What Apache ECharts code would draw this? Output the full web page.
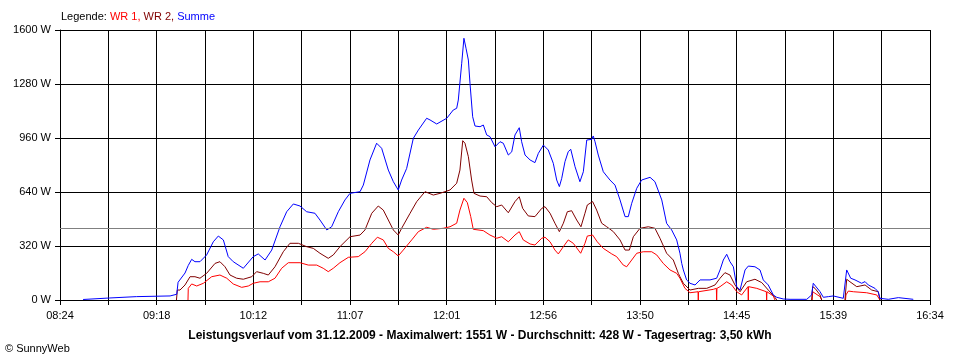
<!DOCTYPE html>
<html>
<head>
<meta charset="utf-8">
<script src="https://cdn.jsdelivr.net/npm/echarts@6/dist/echarts.min.js"></script>
<style>
html,body{margin:0;padding:0;background:#fff;}
#chart{width:960px;height:360px;}
</style>
</head>
<body>
<div id="chart"></div>
<script>
// ---- data ----
const seriesNames = ['WR 1', 'WR 2', 'Summe'];
const xTickLabels = ['08:24','09:18','10:12','11:07','12:01','12:56','13:50','14:45','15:39','16:34'];
const yTicks = [0, 320, 640, 960, 1280, 1600];
const avgW = 428;
const maxW = 1551;
const dateText = '31.12.2009';
const yieldText = '3,50 kWh';

const sumTimes = ['08:37','08:52','09:07','09:26','09:29:45','09:30:30','09:34:25','09:36:15','09:38:10','09:40',
'09:42:50','09:46:35','09:50:20','09:53:10','09:56','09:58:45','10:01:35','10:07:15','10:12:50','10:15:40',
'10:19:30','10:23:15','10:27:55','10:31:40','10:35:25','10:39:10','10:42:55','10:47:35','10:50:25','10:54:15',
'10:57','11:00:45','11:04:30','11:07:20','11:13','11:14:50','11:18:35','11:22:20','11:25:10','11:28:55',
'11:31:45','11:34:30','11:36:25','11:39:15','11:43','11:45:50','11:50:30','11:52:25','11:56:10','12:01:50',
'12:05:30','12:07:25','12:08:20','12:10:15','12:11:30','12:12:40','12:14','12:14:55','12:16:25','12:17:45',
'12:20:35','12:22:25','12:24:20','12:26:10','12:29','12:31:50','12:33:40','12:36:30','12:38:25','12:40:15',
'12:42:40','12:44','12:45:55','12:48:45','12:51:30','12:53:25','12:56:15','12:59','13:01:50','13:03:45',
'13:05:15','13:06:35','13:08:25','13:10:15','13:11:40','13:14:05','13:16:50','13:18:45','13:20:40','13:23:30',
'13:24:20','13:25:20','13:27:10','13:30','13:33:45','13:36:35','13:39:25','13:42:15','13:44:05','13:46',
'13:48:50','13:51:35','13:56:20','13:59:05','14:02:55','14:05:40','14:08:30','14:11:20','14:13:10','14:14:10',
'14:15:05','14:16:55','14:18:50','14:21:40','14:24:30','14:30:05','14:33:50','14:35:45','14:37:35','14:39:30',
'14:41:20','14:43:15','14:45:10','14:47','14:49:50','14:51:40','14:55:25','14:58:15','15:00:05','15:02:55',
'15:05:45','15:07:40','15:11:25','15:15:10','15:24:35','15:27:20','15:28:15','15:29:15','15:32:05','15:33:55',
'15:36:45','15:39:30','15:45:10','15:47:05','15:48','15:49:20','15:51:45','15:55:30','15:57:25','15:59:15',
'16:03','16:04:50','16:05:50','16:10:30','16:16:10','16:24:35'];
const sumValues = [3,12,20,24,34,105,160,205,241,227,
227,267,345,379,356,257,227,188,257,273,
237,296,434,523,569,557,523,514,474,415,
434,523,593,632,642,681,830,929,899,770,
701,652,711,780,958,1007,1077,1067,1043,1077,
1126,1136,1185,1403,1551,1492,1422,1284,1086,1031,
1027,1037,978,968,908,938,929,859,878,978,
1021,938,859,830,814,869,918,889,810,711,
672,721,820,879,893,790,701,760,948,952,
972,938,859,760,711,681,593,494,494,573,
662,711,727,701,593,454,415,356,277,217,
178,119,99,89,119,119,129,178,237,271,
227,197,79,59,178,201,197,178,119,89,
30,16,6,4,4,30,99,89,49,16,
20,24,10,178,188,129,119,99,109,89,
69,49,10,4,14,4];

const wr2Times = ['09:29:35','09:30:05','09:31:35','09:34:25','09:37:15','09:40:00','09:42:50','09:46:35','09:51:20','09:54:05',
'09:56:55','09:59:45','10:03:30','10:07:15','10:12:00','10:14:45','10:18:30','10:21:20','10:25:05','10:29:45',
'10:33:30','10:38:15','10:42:55','10:46:40','10:50:25','10:55:05','10:57:55','11:01:40','11:07:20','11:13:00',
'11:15:45','11:19:35','11:23:15','11:26:05','11:28:55','11:31:45','11:34:30','11:36:25','11:41:10','11:44:55',
'11:49:35','11:54:15','11:58:00','12:03:40','12:07:25','12:09:15','12:10:50','12:12:05','12:14:00','12:15:50',
'12:17:10','12:20:35','12:24:20','12:27:10','12:30:00','12:32:45','12:36:30','12:40:15','12:42:40','12:44:35',
'12:47:45','12:51:30','12:55:20','12:57:10','13:00:00','13:02:45','13:05:15','13:07:30','13:09:45','13:12:10',
'13:15:00','13:17:25','13:19:40','13:21:00','13:24:00','13:26:15','13:29:05','13:31:55','13:35:40','13:39:25',
'13:42:15','13:44:40','13:46:55','13:50:40','13:55:20','13:59:05','14:01:55','14:05:40','14:09:25','14:12:15',
'14:13:10','14:15:05','14:16:00','14:18:50','14:23:30','14:28:15','14:32:55','14:35:45','14:38:30','14:41:20',
'14:44:10','14:47:00','14:50:45','14:55:25','14:59:15','15:02:55','15:06:40','15:07:40','15:15:00','15:27:20',
'15:27:55','15:29:15','15:32:05','15:33:00','15:40:00','15:46:05','15:47:05','15:48:55','15:52:45','15:57:25',
'16:01:10','16:04:50','16:05:50'];
const wr2Values = [0,59,59,89,138,138,129,158,217,227,
197,148,129,123,138,168,158,148,197,286,
336,336,316,306,277,247,267,316,375,385,
415,514,557,533,474,415,385,425,514,583,
642,622,632,652,692,770,944,929,849,711,
632,616,612,577,553,563,517,583,612,543,
498,494,543,553,514,455,405,455,523,529,
474,434,514,563,583,533,455,434,405,356,
296,296,375,425,434,425,366,277,237,158,
138,99,89,59,69,69,89,129,162,148,
89,49,108,123,103,59,16,0,null,0,
79,69,30,0,null,0,123,108,79,89,
59,49,0];

const wr1Times = ['09:36:05','09:36:15','09:38:10','09:41:00','09:44:45','09:49:25','09:54:05','09:57:55','10:01:35','10:06:20',
'10:10:05','10:12:50','10:16:40','10:21:20','10:25:05','10:28:50','10:32:35','10:39:10','10:43:50','10:48:35',
'10:52:15','10:55:05','10:57:55','11:01:40','11:06:25','11:12:00','11:15:45','11:19:35','11:22:45','11:26:05',
'11:28:55','11:31:45','11:34:30','11:37:20','11:42:05','11:45:50','11:50:30','11:54:15','11:59:55','12:03:40',
'12:07:25','12:09:15','12:11:30','12:13:25','12:15:20','12:16:45','12:22:25','12:26:10','12:30:00','12:32:45',
'12:36:30','12:40:15','12:42:40','12:44:55','12:48:45','12:51:30','12:55:20','12:57:10','13:00:00','13:02:45',
'13:04:40','13:07:30','13:10:15','13:13:05','13:15:55','13:17:15','13:19:40','13:21:00','13:24:00','13:26:35',
'13:30:00','13:34:45','13:37:30','13:41:15','13:43:10','13:46:00','13:48:50','13:52:30','13:57:15','14:00:05',
'14:03:45','14:07:35','14:11:20','14:13:10','14:16:00','14:18:50','14:23:20','14:23:30','14:23:40','14:31:55',
'14:33:40','14:33:50','14:34:00','14:35:45','14:39:30','14:42:20','14:45:10','14:47:55','14:51:30','14:51:40',
'14:51:50','14:56:25','15:01:50','15:02:00','15:02:10','15:05:45','15:06:40','15:15:00','15:27:40','15:27:55',
'15:32:05','15:33:00','15:40:00','15:46:25','15:46:40','15:48:00','15:50:50','15:58:20','16:04:00','16:05:50'];
const wr1Values = [0,69,95,83,99,138,148,129,95,75,
83,99,108,108,129,188,221,221,207,207,
188,168,188,221,253,257,286,336,372,356,
306,286,261,296,356,405,431,419,425,434,
455,533,603,577,494,419,411,385,366,375,
345,385,405,356,332,326,366,372,345,296,
273,316,356,336,296,277,336,379,385,345,
306,273,257,207,197,237,277,286,286,267,
217,178,158,129,69,43,49,0,49,63,
69,0,69,79,108,89,49,30,79,0,
79,69,49,0,49,24,0,null,0,49,
20,0,null,0,30,53,49,43,30,0];

// ---- helpers ----
const START_MIN = 8 * 60 + 24;   // 08:24
const END_MIN = 16 * 60 + 34;    // 16:34
const SPAN = END_MIN - START_MIN;
const STEP = SPAN / 18;

function toOffset(s) {
  const p = s.split(':').map(Number);
  return p[0] * 60 + p[1] + (p[2] || 0) / 60 - START_MIN;
}
function pairs(times, values) {
  return times.map((t, i) => [toOffset(t), values[i]]);
}

const FONT = '"Liberation Sans", Arial, sans-serif';
const colors = ['#ff0000', '#800000', '#0000ff'];

const chart = echarts.init(document.getElementById('chart'), null, { renderer: 'canvas' });

const legendText = '{k|Legende: }' + seriesNames.map((n, i) =>
  '{s' + i + '|' + n + (i < seriesNames.length - 1 ? ', ' : '') + '}').join('');
const richLegend = { k: { color: '#000', fontSize: 11, fontFamily: FONT } };
seriesNames.forEach((n, i) => { richLegend['s' + i] = { color: colors[i], fontSize: 11, fontFamily: FONT }; });

chart.setOption({
  animation: false,
  backgroundColor: '#ffffff',
  title: [
    {
      text: legendText, left: 61, top: 11, padding: 0,
      textStyle: { fontSize: 11, fontWeight: 'normal', fontFamily: FONT, rich: richLegend }
    },
    {
      text: 'Leistungsverlauf vom ' + dateText + ' - Maximalwert: ' + maxW + ' W - Durchschnitt: ' + avgW + ' W - Tagesertrag: ' + yieldText,
      left: 'center', top: 330, padding: 0,
      textStyle: { fontSize: 12, fontWeight: 'bold', color: '#000', fontFamily: FONT }
    },
    {
      text: '\u00a9 SunnyWeb', left: 5, top: 343, padding: 0,
      textStyle: { fontSize: 11, fontWeight: 'normal', color: '#000', fontFamily: FONT }
    }
  ],
  grid: { left: 60, right: 30, top: 30, bottom: 60, containLabel: false },
  xAxis: {
    type: 'value', min: 0, max: SPAN, interval: STEP,
    axisLine: { show: true, lineStyle: { color: '#000', width: 1 } },
    axisTick: { show: true, length: 5, lineStyle: { color: '#000' } },
    splitLine: { show: true, lineStyle: { color: '#000', width: 1 } },
    axisLabel: {
      margin: 10, color: '#000', fontSize: 11, fontFamily: FONT,
      showMinLabel: true, showMaxLabel: true,
      formatter: function (v) {
        const idx = Math.round(v / STEP);
        return idx % 2 === 0 ? (xTickLabels[idx / 2] || '') : '';
      }
    }
  },
  yAxis: {
    type: 'value', min: yTicks[0], max: yTicks[yTicks.length - 1], interval: yTicks[1] - yTicks[0],
    axisLine: { show: true, lineStyle: { color: '#000', width: 1 } },
    axisTick: { show: true, length: 5, lineStyle: { color: '#000' } },
    splitLine: { show: true, lineStyle: { color: '#000', width: 1 } },
    axisLabel: { margin: 9, color: '#000', fontSize: 11, fontFamily: FONT, formatter: v => v + ' W' }
  },
  series: [
    {
      name: seriesNames[0], type: 'line', data: pairs(wr1Times, wr1Values),
      showSymbol: false, symbol: 'none', connectNulls: false,
      lineStyle: { color: colors[0], width: 1 }, itemStyle: { color: colors[0] },
      markLine: {
        silent: true, symbol: 'none', label: { show: false },
        lineStyle: { color: '#808080', type: 'solid', width: 1 },
        data: [{ yAxis: avgW }]
      },
      z: 2
    },
    {
      name: seriesNames[1], type: 'line', data: pairs(wr2Times, wr2Values),
      showSymbol: false, symbol: 'none', connectNulls: false,
      lineStyle: { color: colors[1], width: 1 }, itemStyle: { color: colors[1] }, z: 3
    },
    {
      name: seriesNames[2], type: 'line', data: pairs(sumTimes, sumValues),
      showSymbol: false, symbol: 'none', connectNulls: false,
      lineStyle: { color: colors[2], width: 1 }, itemStyle: { color: colors[2] }, z: 4
    }
  ]
});
</script>
</body>
</html>
